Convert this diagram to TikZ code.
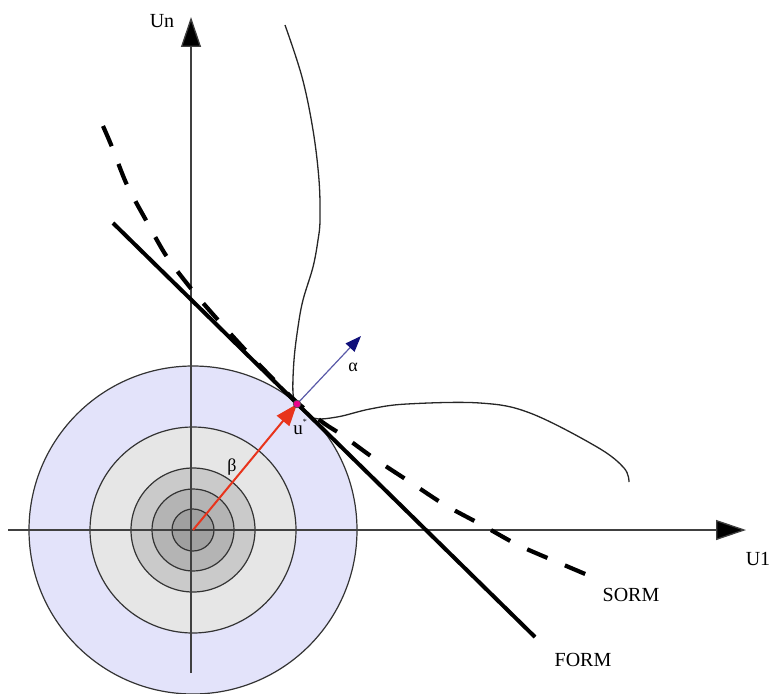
\documentclass[tikz,border=0pt]{standalone}
\usepackage{fontspec}
\setmainfont{Liberation Serif}
\usetikzlibrary{arrows.meta}
\definecolor{ringA}{HTML}{E3E3FA}
\definecolor{ringB}{HTML}{E6E6E6}
\definecolor{ringC}{HTML}{CACACA}
\definecolor{ringD}{HTML}{B4B4B4}
\definecolor{ringE}{HTML}{A0A0A0}
\definecolor{betared}{HTML}{E8341C}
\definecolor{alphanavy}{HTML}{10107A}
\definecolor{alphaline}{HTML}{5A5AA8}
\begin{document}
\begin{tikzpicture}[x=1pt,y=-1pt,
  ring/.style={draw=black!80,line width=1.2pt},
  axis/.style={draw=black!75,line width=1.3pt,-{Triangle[length=30pt,width=20pt,fill=black]}},
  bigtext/.style={font=\fontsize{20}{24}\selectfont,inner sep=0pt},
  smalltext/.style={font=\fontsize{18}{21}\selectfont,inner sep=0pt},
  formline/.style={line width=4pt,black},
  sormline/.style={line width=4.2pt,black,dash pattern=on 22pt off 19pt},
  lsf/.style={line width=1.3pt,black!85}]
\useasboundingbox (0,0) rectangle (770,693);
\coordinate (O) at (193,530);
\coordinate (U) at (297,404);
% rings
\fill[ringA] (O) circle[radius=164pt];
\draw[ring] (O) circle[radius=164pt];
\draw[ring,fill=ringB] (O) circle[radius=103pt];
\draw[ring,fill=ringC] (O) circle[radius=62pt];
\draw[ring,fill=ringD] (O) circle[radius=41pt];
\draw[ring,fill=ringE] (O) circle[radius=21pt];
% axes
\coordinate (xs) at (8,530);
\coordinate (xe) at (746,530);
\coordinate (ys) at (191,673);
\coordinate (ye) at (191,17);
\draw[axis] (xs) -- (xe);
\draw[axis] (ys) -- (ye);
\node[bigtext,anchor=base] (Un) at (162,28) {Un};
\node[bigtext,anchor=base] (U1) at (758,565) {U1};
% limit state curve
\draw[lsf] plot[smooth,tension=0.6] coordinates {(285,25) (302,77) (313,130) (319,180) (320,220) (318,240) (313,267) (303,300) (298,327) (294,360) (293,393) (297,405)};
\draw[lsf] plot[smooth,tension=0.6] coordinates {(297,405) (313,418) (337,417) (370,409) (407,404) (480,403) (530,413) (597,447) (624,468) (629,482)};
% SORM
\draw[sormline] plot[smooth,tension=0.5] coordinates {(103,126) (112,147) (127,185) (147,222) (167,257) (193,291) (218,320) (250,355) (280,386) (300,405) (325,424) (342,435) (375,459) (410,482) (445,505) (482,525) (518,545) (557,562) (597,579)};
% FORM
\coordinate (Fs) at (113,223);
\coordinate (Fe) at (535,637);
\draw[formline] (Fs) -- (Fe);
\node[bigtext,anchor=base] (SORM) at (631,601) {SORM};
\node[bigtext,anchor=base] (FORM) at (583,666) {FORM};
% beta
\draw[betared,line width=2pt,-{Triangle[length=22pt,width=16pt]}] (O) -- (U);
\node[smalltext] (beta) at (232,467) {β};
% alpha
\coordinate (A) at (361,336);
\draw[alphaline,line width=1.2pt,-{Triangle[length=16pt,width=12pt,color=alphanavy]}] (U) -- (A);
\node[smalltext] (alpha) at (353,367) {α};
% design point
\fill[magenta,draw=black!70,line width=0.6pt] (U) circle[radius=3.8pt];
\node[font=\fontsize{19}{22}\selectfont,inner sep=0pt,anchor=base] (ustar) at (300,434) {u\raisebox{0.5em}{\fontsize{8}{9}\selectfont *}};
\end{tikzpicture}
\end{document}
